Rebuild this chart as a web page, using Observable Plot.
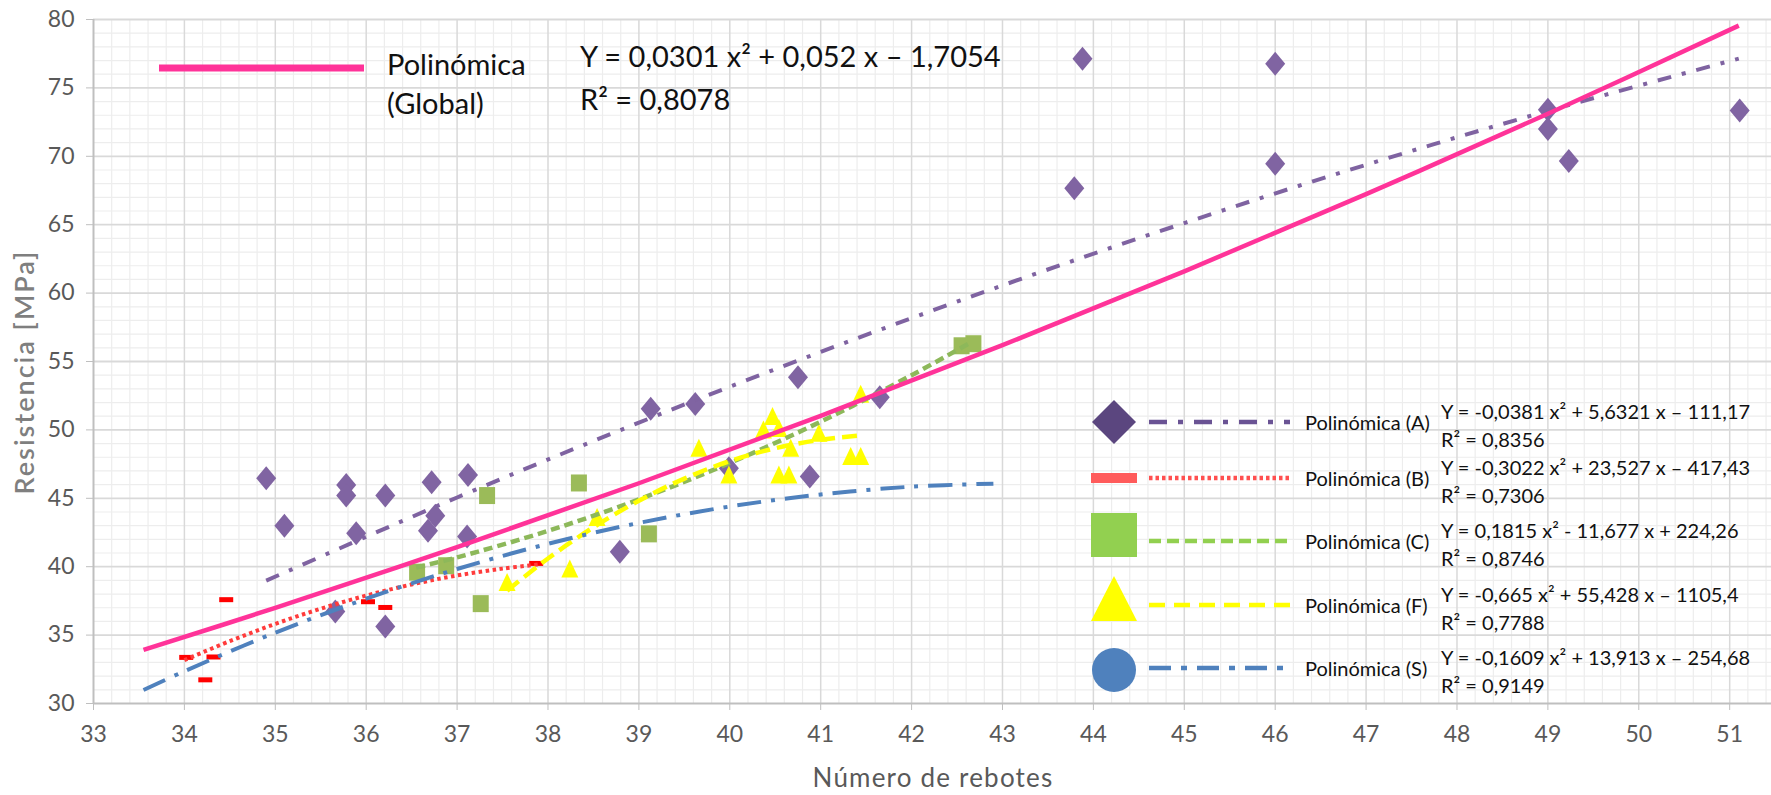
<!DOCTYPE html>
<html>
<head>
<meta charset="utf-8">
<script src="https://cdn.jsdelivr.net/npm/d3@7"></script>
<script src="https://cdn.jsdelivr.net/npm/@observablehq/plot@0.6"></script>
<style>
  html, body { margin: 0; padding: 0; background: #fff; overflow: hidden; }
  #chart { width: 1771px; height: 795px; }
</style>
</head>
<body>
<div id="chart"></div>
<script>
// ---------- Data ----------
const xTicks = [33,34,35,36,37,38,39,40,41,42,43,44,45,46,47,48,49,50,51];
const yTicks = [30,35,40,45,50,55,60,65,70,75,80];

// Series A (diamonds)
const aX = [34.90,35.10,35.78,35.78,35.89,36.21,35.66,36.21,36.72,36.76,36.68,37.12,37.11,39.13,39.62,40.75,41.65,39.99,40.88,38.79,43.88,43.79,46.00,46.00,49.00,49.00,49.23,51.11];
const aY = [46.46,43.00,45.98,45.20,42.44,45.20,36.73,35.63,46.17,43.73,42.63,46.70,42.20,51.54,51.90,53.85,52.39,47.20,46.60,41.10,77.13,67.67,76.76,69.46,73.40,71.99,69.66,73.35];
// Series B (red dashes)
const bX = [34.02,34.32,34.23,34.46,36.02,36.21,37.87];
const bY = [33.37,33.40,31.73,37.59,37.44,37.02,40.24];
// Series C (green squares)
const cX = [36.56,36.88,37.26,37.33,38.34,39.11,42.55,42.68];
const cY = [39.60,40.07,37.30,45.20,46.12,42.40,56.15,56.30];
// Series F (yellow triangles)
const fX = [37.55,38.24,38.54,39.66,40.37,40.47,40.54,40.98,40.67,39.99,40.54,40.65,41.33,41.44,41.44];
const fY = [38.85,39.83,43.60,48.66,50.00,50.98,50.10,49.76,48.66,46.70,46.70,46.70,48.05,48.05,52.60];

// Trend lines
const gTX = [33.55,35,37,39,41,43,45,47,49,51.1];
const gTY = [33.92,36.99,41.43,46.10,51.02,56.19,61.59,67.23,73.11,79.55];
const aTX = [34.9,37,39,41,43,45,47,49,51.1];
const aTY = [38.98,45.06,50.53,55.70,60.56,65.12,69.38,73.32,77.14];
const bTX = [34.0,34.5,35,35.5,36,36.5,37,37.5,37.9];
const bTY = [33.17,34.56,35.82,36.93,37.89,38.70,39.36,39.86,40.17];
const cTX = [36.55,37,38,39,40,41,42,42.65];
const cTY = [39.94,40.68,42.62,44.92,47.58,50.60,54.00,56.39];
const fTX = [37.55,38,38.5,39,39.5,40,40.5,41,41.45];
const fTY = [38.25,40.60,42.88,44.82,46.44,47.72,48.66,49.28,49.60];
const sTX = [33.55,34,35,36,37,38,39,40,41,42,42.9];
const sTY = [30.99,32.36,35.18,37.66,39.83,41.67,43.20,44.40,45.28,45.85,46.07];

// Legend texts
const globalLabel = ["Polinómica", "(Global)"];
const globalEq = ["Y = 0,0301 x² + 0,052 x – 1,7054", "R² = 0,8078"];
const legNames = ["Polinómica (A)", "Polinómica (B)", "Polinómica (C)", "Polinómica (F)", "Polinómica (S)"];
const legEqs = [
  "Y = -0,0381 x² + 5,6321 x – 111,17",
  "Y = -0,3022 x² + 23,527 x – 417,43",
  "Y = 0,1815 x² - 11,677 x + 224,26",
  "Y = -0,665 x² + 55,428 x – 1105,4",
  "Y = -0,1609 x² + 13,913 x – 254,68"
];
const legR2 = ["R² = 0,8356", "R² = 0,7306", "R² = 0,8746", "R² = 0,7788", "R² = 0,9149"];

// ---------- Build ----------
const zip = (xs, ys) => xs.map((x, i) => ({x, y: ys[i]}));
const A = zip(aX, aY), B = zip(bX, bY), C = zip(cX, cY), F = zip(fX, fY);

const diamondSym = {draw(c){ c.moveTo(0,-12); c.lineTo(10,0); c.lineTo(0,12); c.lineTo(-10,0); c.closePath(); }};
const dashSym = {draw(c){ c.rect(-7,-2.5,14,5); }};
const squareSym = {draw(c){ c.rect(-8,-8.5,16,17); }};
const triSym = {draw(c){ c.moveTo(0,-9.5); c.lineTo(8.5,8.5); c.lineTo(-8.5,8.5); c.closePath(); }};

const minorX = d3.range(0, 93).map(i => +(33 + i*0.2).toFixed(2)).filter(v => Math.abs(v - Math.round(v)) > 1e-6);
const minorY = d3.range(30, 81).filter(v => v % 5 !== 0);

const font = "Lato, 'Open Sans', sans-serif";

const lineMark = (xs, ys, stroke, dash, w) => Plot.line(zip(xs, ys), {
  x: "x", y: "y", stroke, strokeWidth: w, strokeDasharray: dash, curve: "catmull-rom", strokeLinecap: "butt"
});

const plot = Plot.plot({
  width: 1771,
  height: 795,
  marginLeft: 93,
  marginRight: 0,
  marginTop: 19,
  marginBottom: 92,
  style: {fontFamily: font, fontSize: "23px", color: "#595959", background: "white"},
  x: {domain: [33, 51.46]},
  y: {domain: [30, 80]},
  marks: [
    Plot.ruleX(minorX, {stroke: "#ededed", strokeWidth: 1.2}),
    Plot.ruleY(minorY, {stroke: "#ededed", strokeWidth: 1.2}),
    Plot.ruleX(xTicks.slice(1), {stroke: "#d9d9d9", strokeWidth: 1.5}),
    Plot.ruleY(yTicks.slice(1), {stroke: "#d9d9d9", strokeWidth: 1.8}),
    Plot.ruleX([33], {stroke: "#bfbfbf", strokeWidth: 2}),
    Plot.ruleY([30], {stroke: "#bfbfbf", strokeWidth: 2}),
    Plot.axisX({ticks: xTicks, tickFormat: d => String(d), tickSize: 7, tickPadding: 15, stroke: "#bfbfbf", fill: "#595959", label: null}),
    Plot.axisY({ticks: yTicks, tickFormat: d => String(d), tickSize: 7, tickPadding: 12, stroke: "#bfbfbf", fill: "#595959", label: null}),
    Plot.dot(A, {x: "x", y: "y", symbol: diamondSym, fill: "#8064A2", stroke: "none", r: 10}),
    Plot.dot(B, {x: "x", y: "y", symbol: dashSym, fill: "#FF0000", stroke: "none", r: 7}),
    Plot.dot(C, {x: "x", y: "y", symbol: squareSym, fill: "#9BBB59", stroke: "none", r: 8}),
    Plot.dot(F, {x: "x", y: "y", symbol: triSym, fill: "#FFFF00", stroke: "none", r: 9}),
    lineMark(aTX, aTY, "#7F63A1", "14,11,4,11", 4),
    lineMark(bTX, bTY, "#FF3B3B", "3.5,3.5", 4),
    lineMark(cTX, cTY, "#8DB85A", "9,5", 4.5),
    lineMark(fTX, fTY, "#FFFF00", "15,7", 4.5),
    lineMark(sTX, sTY, "#4F81BD", "24,10,4,10", 4),
    lineMark(gTX, gTY, "#FF3399", null, 4.5)
  ]
});

document.getElementById("chart").appendChild(plot);

// ---------- Titles and legends ----------
const svg = d3.select(plot);
const g = svg.append("g").attr("font-family", font).attr("text-anchor", "start");

g.append("text").text("Número de rebotes")
  .attr("x", 933).attr("y", 780).attr("text-anchor", "middle").attr("dominant-baseline", "middle")
  .attr("font-size", 26).attr("letter-spacing", 1.2).attr("fill", "#595959");
g.append("text").text("Resistencia [MPa]")
  .attr("transform", "translate(27,372) rotate(-90)").attr("text-anchor", "middle").attr("dominant-baseline", "middle")
  .attr("font-size", 27).attr("font-weight", 600).attr("letter-spacing", 2).attr("fill", "#7f7f7f");

// Global legend (top-left)
g.append("line").attr("x1", 159).attr("x2", 364).attr("y1", 68).attr("y2", 68)
  .attr("stroke", "#FF3399").attr("stroke-width", 7);
globalLabel.forEach((t, i) => g.append("text").text(t)
  .attr("x", 387).attr("y", 68 + i*39).attr("dominant-baseline", "middle").attr("text-anchor", "start")
  .attr("font-size", 29).attr("fill", "#111"));
globalEq.forEach((t, i) => g.append("text").text(t)
  .attr("x", 580).attr("y", 60 + i*43).attr("dominant-baseline", "middle").attr("text-anchor", "start")
  .attr("font-size", 29).attr("fill", "#111"));

// Series legend (bottom-right)
const rowY = [422, 478, 541, 605, 668];
const legColors = ["#5B467F", "#FF5B5B", "#92D050", "#FFFF00", "#4F81BD"];
const legLine = ["#6A5394", "#FF4F4F", "#92D050", "#FFFF00", "#4F81BD"];
const legDash = ["18,11,5,11", "3.5,3", "12,6", "16,9", "22,10,6,10"];
const symX = 1114;
rowY.forEach((y, i) => {
  const c = legColors[i];
  if (i === 0) g.append("path").attr("d", `M${symX},${y-22} L${symX+22},${y} L${symX},${y+22} L${symX-22},${y} Z`).attr("fill", c);
  if (i === 1) g.append("rect").attr("x", symX-23).attr("y", y-5).attr("width", 46).attr("height", 10).attr("fill", c);
  if (i === 2) g.append("rect").attr("x", symX-23).attr("y", y-28).attr("width", 46).attr("height", 44).attr("fill", c);
  if (i === 3) g.append("path").attr("d", `M${symX},${y-29} L${symX+23},${y+16} L${symX-23},${y+16} Z`).attr("fill", c);
  if (i === 4) g.append("ellipse").attr("cx", symX).attr("cy", y+2).attr("rx", 22).attr("ry", 22).attr("fill", c);
  g.append("line").attr("x1", 1149).attr("x2", 1290).attr("y1", y).attr("y2", y)
    .attr("stroke", legLine[i]).attr("stroke-width", 4.5).attr("stroke-dasharray", legDash[i]);
  g.append("text").text(legNames[i]).attr("x", 1305).attr("y", y + 3).attr("dominant-baseline", "middle")
    .attr("text-anchor", "start").attr("font-size", 20).attr("fill", "#111");
  g.append("text").text(legEqs[i]).attr("x", 1441).attr("y", y - 8).attr("dominant-baseline", "middle")
    .attr("text-anchor", "start").attr("font-size", 20).attr("fill", "#111");
  g.append("text").text(legR2[i]).attr("x", 1441).attr("y", y + 20).attr("dominant-baseline", "middle")
    .attr("text-anchor", "start").attr("font-size", 20).attr("fill", "#111");
});
</script>
</body>
</html>
